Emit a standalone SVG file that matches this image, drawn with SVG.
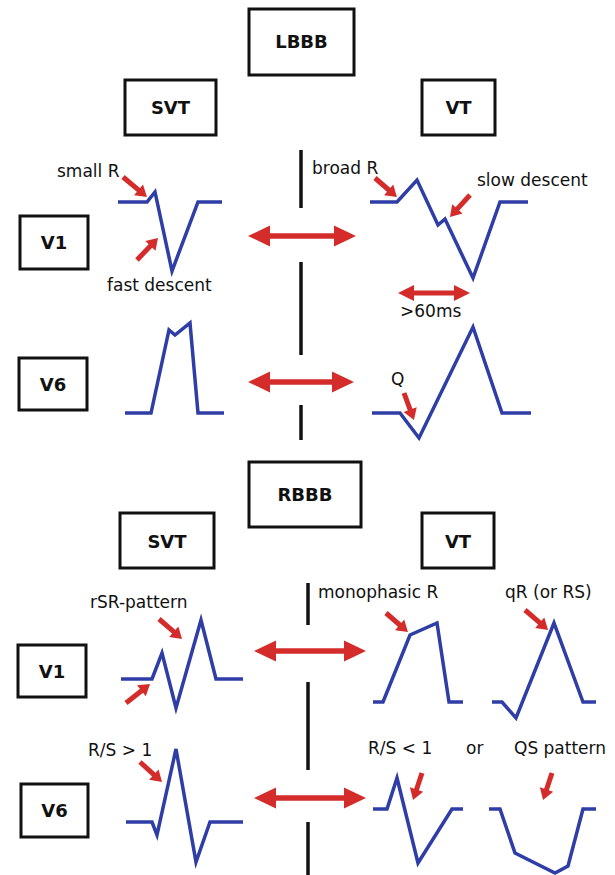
<svg xmlns="http://www.w3.org/2000/svg" width="615" height="875" viewBox="0 0 615 875">
<defs>
<style>
.box{fill:#fff;stroke:#111;stroke-width:3}
.bt{font-family:"DejaVu Sans","Liberation Sans",sans-serif;font-weight:bold;font-size:18px;fill:#111;text-anchor:middle}
.lbl{font-family:"DejaVu Sans","Liberation Sans",sans-serif;font-size:17px;fill:#111}
.wave{fill:none;stroke:#2f3ea6;stroke-width:3.5;stroke-linejoin:miter}
.div{stroke:#111;stroke-width:3.5}
.ann{stroke:#d42b2b;stroke-width:5;fill:none;marker-end:url(#ah)}
.dbl{stroke:#d42b2b;stroke-width:5.5;fill:none;marker-start:url(#dh);marker-end:url(#dh)}
.dbs{stroke:#d42b2b;stroke-width:5;fill:none;marker-start:url(#sh);marker-end:url(#sh)}
</style>
<marker id="ah" markerUnits="userSpaceOnUse" markerWidth="12" markerHeight="14" refX="1" refY="7" orient="auto" overflow="visible"><path d="M0,0 L11,7 L0,14 z" fill="#d42b2b"/></marker>
<marker id="dh" markerUnits="userSpaceOnUse" markerWidth="22" markerHeight="21" refX="1" refY="10.5" orient="auto-start-reverse" overflow="visible"><path d="M0,0 L22,10.5 L0,21 z" fill="#d42b2b"/></marker>
<marker id="sh" markerUnits="userSpaceOnUse" markerWidth="16" markerHeight="16" refX="1" refY="8" orient="auto-start-reverse" overflow="visible"><path d="M0,0 L16,8 L0,16 z" fill="#d42b2b"/></marker>
</defs>
<rect width="615" height="875" fill="#fff"/>

<!-- LBBB section -->
<g id="lbbb"><rect class="box" x="249" y="9" width="105" height="66"/><text class="bt" x="301.5" y="48">LBBB</text></g>
<g id="lbbb-svt"><rect class="box" x="125" y="80" width="91" height="55"/><text class="bt" x="170.5" y="114">SVT</text></g>
<g id="lbbb-vt"><rect class="box" x="422" y="80" width="73" height="55"/><text class="bt" x="458.5" y="114">VT</text></g>
<g id="lbbb-v1"><rect class="box" x="20" y="216" width="68" height="53"/><text class="bt" x="54" y="249">V1</text></g>
<g id="lbbb-v6"><rect class="box" x="19" y="358" width="68" height="52"/><text class="bt" x="53" y="391">V6</text></g>

<g id="lbbb-divider">
<line class="div" x1="301" y1="150" x2="301" y2="208"/>
<line class="div" x1="301" y1="262" x2="301" y2="355"/>
<line class="div" x1="301" y1="405" x2="301" y2="440"/>
</g>

<g id="lbbb-v1-svt"><polyline class="wave" points="118,202 147,202 155,192 172,271 198,202 222,202"/>
<text class="lbl" x="57" y="177">small R</text><text class="lbl" x="107" y="291">fast descent</text></g>
<g id="lbbb-v1-vt"><polyline class="wave" points="370,202 397,202 417,180 438,225 445,219 473,278 500,202 528,202"/>
<text class="lbl" x="312" y="174">broad R</text><text class="lbl" x="477" y="186">slow descent</text><text class="lbl" x="400" y="317">&gt;60ms</text></g>
<g id="lbbb-v6-svt"><polyline class="wave" points="125,413 151,413 169,330 175,335 190,323 198,413 224,413"/></g>
<g id="lbbb-v6-vt"><polyline class="wave" points="372,413 400,413 419,438 473,327 502,413 531,413"/>
<text class="lbl" x="391" y="385">Q</text></g>

<!-- RBBB section -->
<g id="rbbb"><rect class="box" x="249" y="462" width="112" height="65"/><text class="bt" x="305" y="501">RBBB</text></g>
<g id="rbbb-svt"><rect class="box" x="120" y="513" width="94" height="55"/><text class="bt" x="167" y="548">SVT</text></g>
<g id="rbbb-vt"><rect class="box" x="422" y="513" width="72" height="55"/><text class="bt" x="458" y="548">VT</text></g>
<g id="rbbb-v1"><rect class="box" x="18" y="645" width="68" height="52"/><text class="bt" x="52" y="678">V1</text></g>
<g id="rbbb-v6"><rect class="box" x="21" y="784" width="67" height="53"/><text class="bt" x="54.5" y="817">V6</text></g>

<g id="rbbb-divider">
<line class="div" x1="308" y1="583" x2="308" y2="625"/>
<line class="div" x1="308" y1="682" x2="308" y2="770"/>
<line class="div" x1="308" y1="822" x2="308" y2="875"/>
</g>

<g id="rbbb-v1-svt"><polyline class="wave" points="121,679 152,679 162,653 176,708 201,620 216,679 243,679"/>
<text class="lbl" x="90" y="608">rSR-pattern</text></g>
<g id="rbbb-v1-vt-mono"><polyline class="wave" points="373,702 383,702 410,635 437,623 449,702 463,702"/>
<text class="lbl" x="318" y="598">monophasic R</text></g>
<g id="rbbb-v1-vt-qr"><polyline class="wave" points="492,702 502,702 516,718 554,623 583,702 596,702"/>
<text class="lbl" x="505" y="598">qR (or RS)</text></g>
<g id="rbbb-v6-svt"><polyline class="wave" points="126,822 152,822 157,835 176,749 196,862 210,822 243,822"/>
<text class="lbl" x="88" y="756">R/S &gt; 1</text></g>
<g id="rbbb-v6-vt-rs"><polyline class="wave" points="373,809 387,809 397,778 418,863 452,809 463,809"/>
<text class="lbl" x="368" y="754">R/S &lt; 1</text><text class="lbl" x="466" y="754">or</text></g>
<g id="rbbb-v6-vt-qs"><polyline class="wave" points="489,809 500,809 515,853 555,873 568,866 583,809 596,809"/>
<text class="lbl" x="514" y="754">QS pattern</text></g>

<g id="connectors">
<line class="dbl" x1="269" y1="236" x2="335" y2="236"/>
<line class="dbl" x1="269" y1="382" x2="333" y2="382"/>
<line class="dbl" x1="275" y1="651" x2="345" y2="651"/>
<line class="dbl" x1="275" y1="798" x2="345" y2="798"/>
<line class="dbs" x1="413" y1="293" x2="455" y2="293"/>
<line class="ann" x1="123" y1="177" x2="139.3" y2="190.6"/>
<line class="ann" x1="137" y1="260" x2="151.1" y2="245.2"/>
<line class="ann" x1="375" y1="178" x2="389.4" y2="190.5"/>
<line class="ann" x1="470" y1="195" x2="456.7" y2="209.6"/>
<line class="ann" x1="404" y1="393" x2="410.5" y2="410.6"/>
<line class="ann" x1="159" y1="619" x2="174.5" y2="632.4"/>
<line class="ann" x1="126" y1="703" x2="142.2" y2="690.2"/>
<line class="ann" x1="386" y1="613" x2="400.4" y2="625.5"/>
<line class="ann" x1="525" y1="610" x2="540.5" y2="623.4"/>
<line class="ann" x1="140" y1="762" x2="154.6" y2="775.3"/>
<line class="ann" x1="422" y1="773" x2="416.2" y2="790.5"/>
<line class="ann" x1="552" y1="773" x2="546.2" y2="790.5"/>
</g>
</svg>
